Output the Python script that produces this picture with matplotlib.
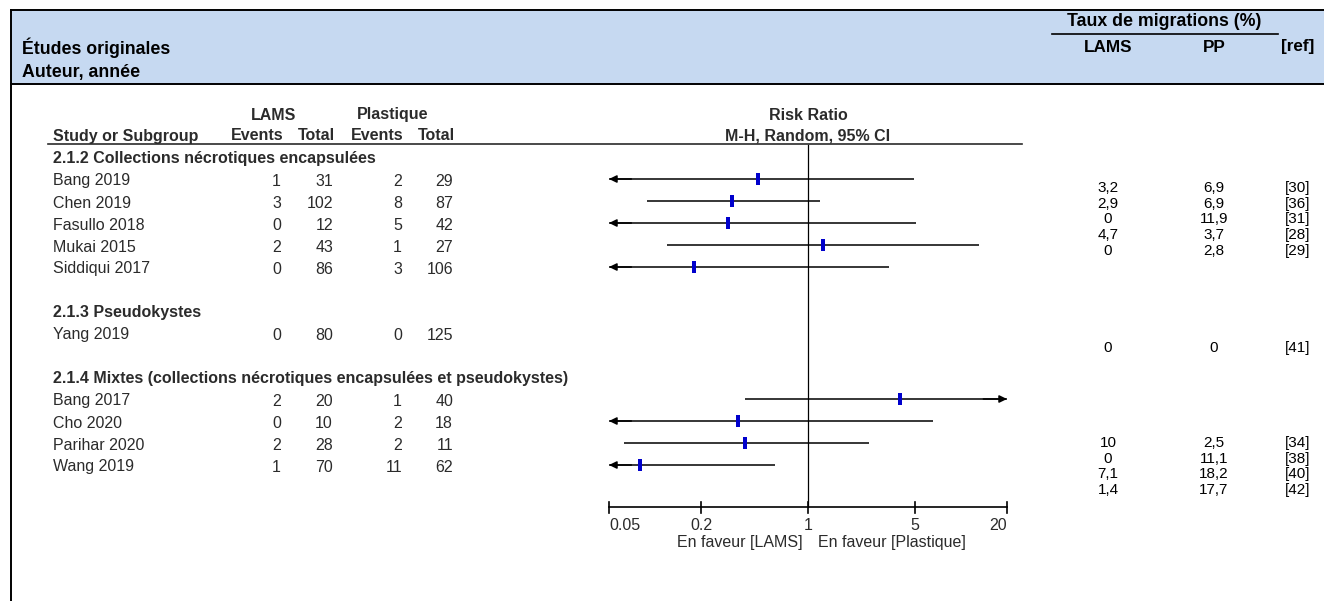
import matplotlib.pyplot as plt
from matplotlib.patches import Rectangle
import numpy as np

plt.rcParams['font.family'] = ['Liberation Sans', 'DejaVu Sans']

# Data
groups = ['2.1.2 Collections nécrotiques encapsulées',
          '2.1.3 Pseudokystes',
          '2.1.4 Mixtes (collections nécrotiques encapsulées et pseudokystes)']
group_of = [0, 0, 0, 0, 0, 1, 2, 2, 2, 2]
studies = ['Bang 2019', 'Chen 2019', 'Fasullo 2018', 'Mukai 2015', 'Siddiqui 2017',
           'Yang 2019', 'Bang 2017', 'Cho 2020', 'Parihar 2020', 'Wang 2019']
ev_lams = [1, 3, 0, 2, 0, 0, 2, 0, 2, 1]
tot_lams = [31, 102, 12, 43, 86, 80, 20, 10, 28, 70]
ev_pl = [2, 8, 5, 1, 3, 0, 1, 2, 2, 11]
tot_pl = [29, 87, 42, 27, 106, 125, 40, 18, 11, 62]
rr = [0.47, 0.32, 0.30, 1.26, 0.18, np.nan, 4.0, 0.35, 0.39, 0.08]
ci_lo = [0.045, 0.088, 0.018, 0.12, 0.009, np.nan, 0.39, 0.02, 0.063, 0.01]
ci_hi = [4.9, 1.2, 5.1, 13.2, 3.4, np.nan, 41, 6.6, 2.5, 0.61]
taux_lams = [3.2, 2.9, 0, 4.7, 0, 0, 10, 0, 7.1, 1.4]
taux_pp = [6.9, 6.9, 11.9, 3.7, 2.8, 0, 2.5, 11.1, 18.2, 17.7]
refs = [30, 36, 31, 28, 29, 41, 34, 38, 40, 42]
ticks = [0.05, 0.2, 1, 5, 20]
tick_labels = ['0.05', '0.2', '1', '5', '20']

W, H = 1324, 601
fig = plt.figure(figsize=(W / 100, H / 100), dpi=100)

# background axes in pixel units
bg = fig.add_axes([0, 0, 1, 1])
bg.set_xlim(0, W)
bg.set_ylim(H, 0)
bg.axis('off')

# forest plot axes (log scale), same vertical pixel units
fa = fig.add_axes([609 / W, 0, 398 / W, 1])
fa.set_xscale('log')
fa.set_xlim(0.05, 20)
fa.set_ylim(H, 0)
fa.axis('off')
fa.patch.set_alpha(0)

# header band
bg.add_patch(Rectangle((11, 10), W - 11, 74, facecolor='#c6d9f1', edgecolor='none'))
bg.plot([11, W], [10, 10], color='black', lw=1.4)
bg.plot([11, W], [84, 84], color='black', lw=1.4)
bg.plot([11, 11], [10, H], color='black', lw=1.4)

hfs = 12.8
bg.text(22, 48, 'Études originales', fontsize=hfs, fontweight='bold', va='center')
bg.text(22, 72, 'Auteur, année', fontsize=hfs, fontweight='bold', va='center')
bg.text(1164, 22, 'Taux de migrations (%)', fontsize=hfs, fontweight='bold', ha='center', va='center')
bg.plot([1052, 1278], [34, 34], color='black', lw=1.2)
bg.text(1108, 47, 'LAMS', fontsize=12.3, fontweight='bold', ha='center', va='center')
bg.text(1214, 47, 'PP', fontsize=12.3, fontweight='bold', ha='center', va='center')
bg.text(1298, 47, '[ref]', fontsize=12.3, fontweight='bold', ha='center', va='center')

# left table header
fs = 11.5
tc = '#2b2b2b'
bg.text(274, 115, 'LAMS', fontsize=fs, fontweight='bold', ha='center', va='center', color=tc)
bg.text(393, 115, 'Plastique', fontsize=fs, fontweight='bold', ha='center', va='center', color=tc)
bg.text(53, 136, 'Study or Subgroup', fontsize=fs, fontweight='bold', va='center', color=tc)
col_x = [283, 335, 403, 455]
for x, lab in zip(col_x, ['Events', 'Total', 'Events', 'Total']):
    bg.text(x, 136, lab, fontsize=fs, fontweight='bold', ha='right', va='center', color=tc)
bg.text(808, 115, 'Risk Ratio', fontsize=fs, fontweight='bold', ha='center', va='center', color=tc)
bg.text(808, 136, 'M-H, Random, 95% CI', fontsize=fs, fontweight='bold', ha='center', va='center', color=tc)
bg.plot([48, 1022], [144, 144], color=tc, lw=1.2)

# rows
num_x = [281, 333, 402, 453]
y = 113
prev_g = None
for i, name in enumerate(studies):
    g = group_of[i]
    if g != prev_g:
        y += 45
        bg.text(53, y, groups[g], fontsize=fs, fontweight='bold', va='center', color=tc)
        y += 21
        prev_g = g
    else:
        y += 22
    bg.text(53, y + 2, name, fontsize=fs, va='center', color=tc)
    for x, v in zip(num_x, [ev_lams[i], tot_lams[i], ev_pl[i], tot_pl[i]]):
        bg.text(x, y + 2, str(v), fontsize=fs, ha='right', va='center', color=tc)
    if not np.isnan(rr[i]):
        lo = max(ci_lo[i], 0.05)
        hi = min(ci_hi[i], 20)
        fa.plot([lo, hi], [y, y], color='black', lw=1.1, solid_capstyle='butt')
        arrow = dict(arrowstyle='-|>,head_length=0.45,head_width=0.22', color='black',
                     lw=1.1, shrinkA=0, shrinkB=0)
        if ci_lo[i] < 0.05:
            fa.annotate('', xy=(0.05, y), xytext=(0.07, y), arrowprops=arrow, annotation_clip=False)
        if ci_hi[i] > 20:
            fa.annotate('', xy=(20, y), xytext=(14, y), arrowprops=arrow, annotation_clip=False)
        rect = [(-0.18, -0.5), (0.18, -0.5), (0.18, 0.5), (-0.18, 0.5)]
        fa.scatter([rr[i]], [y], marker=rect, s=8.5 ** 2, color='#0000cc', linewidths=0, zorder=3)

# line of no effect and axis
fa.plot([1, 1], [145, 507], color='black', lw=0.9)
fa.plot([0.05, 20], [507, 507], color='black', lw=1.2, clip_on=False)
for k, (t, lab) in enumerate(zip(ticks, tick_labels)):
    fa.plot([t, t], [502, 513], color='black', lw=1.2, clip_on=False)
    ha = 'left' if k == 0 else ('right' if k == len(ticks) - 1 else 'center')
    fa.text(t, 525, lab, fontsize=fs, ha=ha, va='center', color=tc)
fa.annotate('En faveur [LAMS]', xy=(1, 543), xytext=(-4, 0), textcoords='offset points',
            fontsize=fs, ha='right', va='center', color=tc)
fa.annotate('En faveur [Plastique]', xy=(1, 543), xytext=(7, 0), textcoords='offset points',
            fontsize=fs, ha='left', va='center', color=tc)

# right columns (rate of migrations)
def fmt(v):
    return f'{v:g}'.replace('.', ',')

group_start = [188, 348, 443]
k_in_group = 0
prev_g = None
rfs = 11
for i in range(len(studies)):
    g = group_of[i]
    k_in_group = 0 if g != prev_g else k_in_group + 1
    prev_g = g
    yy = group_start[g] + 15.7 * k_in_group
    bg.text(1108, yy, fmt(taux_lams[i]), fontsize=rfs, ha='center', va='center')
    bg.text(1214, yy, fmt(taux_pp[i]), fontsize=rfs, ha='center', va='center')
    bg.text(1298, yy, f'[{refs[i]}]', fontsize=rfs, ha='center', va='center')

fig.savefig('out.png', dpi=100)
